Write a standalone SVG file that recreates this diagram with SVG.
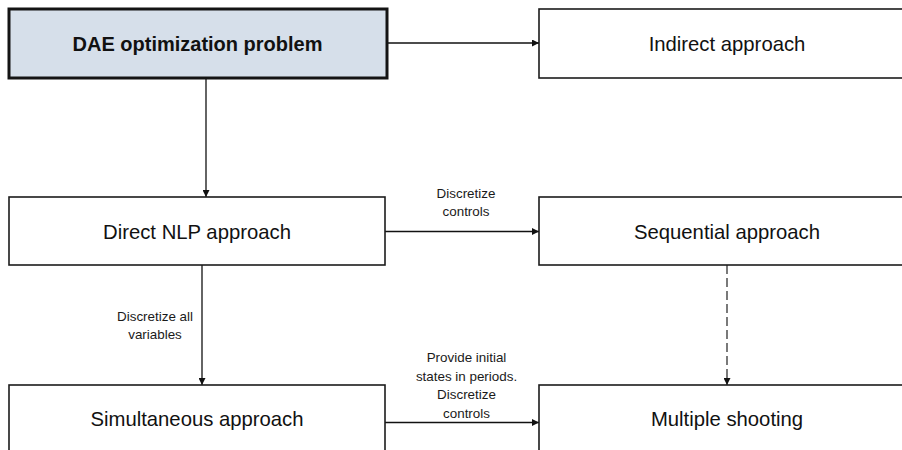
<svg xmlns="http://www.w3.org/2000/svg" width="902" height="450" viewBox="0 0 902 450">
  <style>
    .box { fill: #ffffff; stroke: #1c1c1c; stroke-width: 1.6; }
    .root { fill: #d6dfea; stroke: #141414; stroke-width: 3; }
    .title { font-family: "Liberation Sans", Arial, sans-serif; font-size: 20.3px; fill: #111111; text-anchor: middle; }
    .bold { font-weight: bold; font-size: 20px; }
    .edge { stroke: #111111; stroke-width: 1.3; fill: none; }
    .dash { stroke-dasharray: 9 4; stroke: #333333; }
    .lbl { font-family: "Liberation Sans", Arial, sans-serif; font-size: 13.4px; fill: #1a1a1a; text-anchor: middle; }
  </style>
  <defs>
    <marker id="arrow" viewBox="0 0 10 10" refX="10" refY="5" markerWidth="7" markerHeight="7" markerUnits="userSpaceOnUse" orient="auto">
      <path d="M0,0 L10,5 L0,10 Z" fill="#111111"/>
    </marker>
  </defs>

  <rect width="902" height="450" fill="#ffffff"/>

  <g id="connectors">
    <line class="edge" x1="387" y1="43" x2="539" y2="43" marker-end="url(#arrow)"/>
    <line class="edge" x1="206" y1="78" x2="206" y2="197" marker-end="url(#arrow)"/>
    <line class="edge" x1="385" y1="231.5" x2="539" y2="231.5" marker-end="url(#arrow)"/>
    <line class="edge" x1="202" y1="265" x2="202" y2="385" marker-end="url(#arrow)"/>
    <line class="edge dash" x1="727" y1="265" x2="727" y2="385" marker-end="url(#arrow)"/>
    <line class="edge" x1="385" y1="422.5" x2="539" y2="422.5" marker-end="url(#arrow)"/>
    <text class="lbl" x="466" y="198">Discretize</text>
    <text class="lbl" x="466" y="216">controls</text>
    <text class="lbl" x="155" y="321">Discretize all</text>
    <text class="lbl" x="155" y="339">variables</text>
    <text class="lbl" x="466.5" y="362">Provide initial</text>
    <text class="lbl" x="466.5" y="380.5">states in periods.</text>
    <text class="lbl" x="466.5" y="399">Discretize</text>
    <text class="lbl" x="466.5" y="417.5">controls</text>
  </g>

  <g id="dae-problem">
    <rect class="root" x="9" y="9" width="378" height="69"/>
    <text class="title bold" x="197.5" y="50.5">DAE optimization problem</text>
  </g>

  <g id="indirect">
    <rect class="box" x="539" y="9" width="376" height="69"/>
    <text class="title" x="727" y="50.5">Indirect approach</text>
  </g>

  <g id="direct-nlp">
    <rect class="box" x="9" y="197" width="376" height="68"/>
    <text class="title" x="197" y="238.5">Direct NLP approach</text>
  </g>

  <g id="sequential">
    <rect class="box" x="539" y="197" width="376" height="68"/>
    <text class="title" x="727" y="238.5">Sequential approach</text>
  </g>

  <g id="simultaneous">
    <rect class="box" x="9" y="385" width="376" height="69"/>
    <text class="title" x="197" y="426">Simultaneous approach</text>
  </g>

  <g id="multiple-shooting">
    <rect class="box" x="539" y="385" width="376" height="69"/>
    <text class="title" x="727" y="426">Multiple shooting</text>
  </g>
</svg>
